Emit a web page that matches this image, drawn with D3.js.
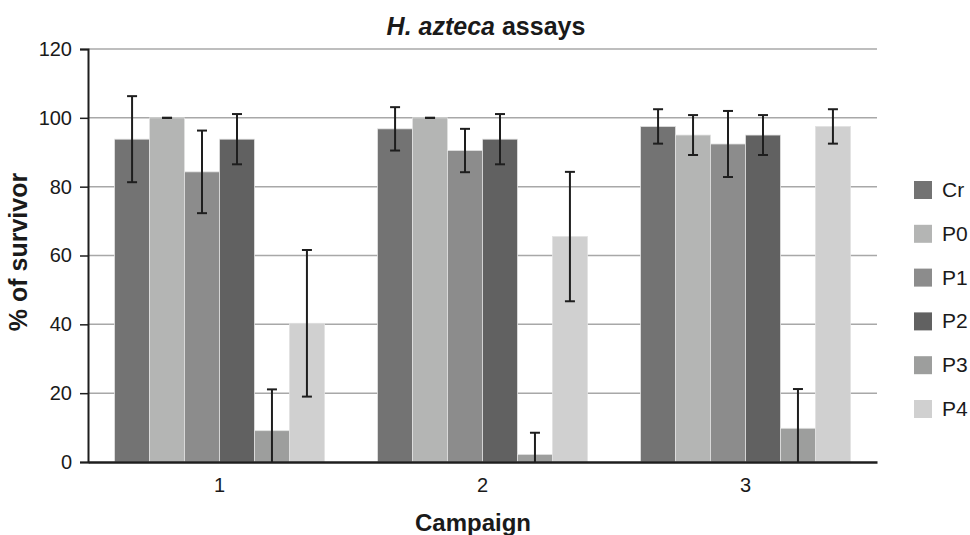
<!DOCTYPE html>
<html>
<head>
<meta charset="utf-8">
<script src="https://cdn.jsdelivr.net/npm/d3@7"></script>
<style>
  body { margin: 0; background: #fff; }
  text { font-family: "Liberation Sans", Arial, sans-serif; fill: #1a1a1a; }
</style>
</head>
<body>
<script>
// chart data
var campaigns = ["1", "2", "3"];
var series = ["Cr", "P0", "P1", "P2", "P3", "P4"];
var colors = ["#737373", "#b4b5b4", "#8c8c8c", "#616161", "#9d9e9d", "#d0d0d0"];
// mean survival per campaign, one array per series
var valCr = [93.8, 96.8, 97.5];
var valP0 = [100, 100, 95];
var valP1 = [84.3, 90.5, 92.4];
var valP2 = [93.8, 93.8, 95];
var valP3 = [9.1, 2.2, 9.8];
var valP4 = [40.3, 65.5, 97.5];
// error (+/-)
var errCr = [12.5, 6.3, 5];
var errP0 = [0, 0, 5.8];
var errP1 = [12, 6.3, 9.6];
var errP2 = [7.3, 7.3, 5.8];
var errP3 = [12, 6.3, 11.4];
var errP4 = [21.3, 18.8, 5];
var yTicks = [0, 20, 40, 60, 80, 100, 120];

var width = 970, height = 535;
var margin = {top: 49, right: 93, bottom: 73, left: 88};

var vals = [valCr, valP0, valP1, valP2, valP3, valP4];
var errs = [errCr, errP0, errP1, errP2, errP3, errP4];

var rows = [];
campaigns.forEach(function(c, i){
    series.forEach(function(s, j){
        rows.push({campaign: c, key: s, value: vals[j][i], err: errs[j][i], color: colors[j]});
    });
});

var svg = d3.select("body").append("svg")
    .attr("width", width)
    .attr("height", height);

var x0 = d3.scaleBand()
    .domain(campaigns)
    .range([margin.left, width - margin.right])
    .padding(0);

var x1 = d3.scaleBand()
    .domain(series)
    .range([0, x0.bandwidth()])
    .paddingInner(0)
    .paddingOuter(0.76);

var y = d3.scaleLinear()
    .domain([0, 120])
    .range([height - margin.bottom, margin.top]);

// gridlines
svg.append("g")
    .selectAll("line")
    .data(yTicks.filter(function(d){ return d > 0; }))
    .enter().append("line")
    .attr("x1", margin.left)
    .attr("x2", width - margin.right)
    .attr("y1", function(d){ return y(d); })
    .attr("y2", function(d){ return y(d); })
    .attr("stroke", "#a8a8a8")
    .attr("stroke-width", 1.5);

// bars
svg.append("g")
    .selectAll("rect")
    .data(rows)
    .enter().append("rect")
    .attr("x", function(d){ return x0(d.campaign) + x1(d.key); })
    .attr("y", function(d){ return y(d.value); })
    .attr("width", x1.bandwidth())
    .attr("height", function(d){ return y(0) - y(d.value); })
    .attr("fill", function(d){ return d.color; })
    .attr("stroke", "#e2e2e2")
    .attr("stroke-width", 0.8);

// error bars
var eb = svg.append("g")
    .attr("stroke", "#1e1e1e")
    .attr("stroke-width", 2)
    .selectAll("g")
    .data(rows)
    .enter().append("g")
    .attr("transform", function(d){
        return "translate(" + (x0(d.campaign) + x1(d.key) + x1.bandwidth() / 2) + ",0)";
    });

eb.append("line")
    .attr("y1", function(d){ return y(Math.max(0, d.value - d.err)); })
    .attr("y2", function(d){ return y(d.value + d.err); });

eb.append("line")
    .attr("x1", -5).attr("x2", 5)
    .attr("y1", function(d){ return y(d.value + d.err); })
    .attr("y2", function(d){ return y(d.value + d.err); });

eb.filter(function(d){ return d.value - d.err > 0; })
    .append("line")
    .attr("x1", -5).attr("x2", 5)
    .attr("y1", function(d){ return y(d.value - d.err); })
    .attr("y2", function(d){ return y(d.value - d.err); });

// y axis
var yAxis = svg.append("g")
    .attr("transform", "translate(" + margin.left + ",0)")
    .call(d3.axisLeft(y).tickValues(yTicks).tickSize(8).tickPadding(8));
yAxis.select(".domain").attr("stroke", "#1e1e1e").attr("stroke-width", 2);
yAxis.selectAll(".tick line").attr("stroke", "#1e1e1e").attr("stroke-width", 1.5);
yAxis.selectAll(".tick text").style("font-size", "20px").attr("fill", "#1a1a1a");

// x axis
var xAxis = svg.append("g")
    .attr("transform", "translate(0," + y(0) + ")")
    .call(d3.axisBottom(x0).tickSize(0).tickPadding(16));
xAxis.select(".domain").attr("stroke", "#1e1e1e").attr("stroke-width", 2.5);
xAxis.selectAll(".tick text").style("font-size", "20px").attr("fill", "#1a1a1a");

// title
var title = svg.append("text")
    .attr("x", 486)
    .attr("y", 35)
    .attr("text-anchor", "middle")
    .style("font-size", "25px")
    .style("font-weight", "bold");
title.append("tspan").style("font-style", "italic").text("H. azteca");
title.append("tspan").text(" assays");

// axis titles
svg.append("text")
    .attr("x", 473)
    .attr("y", 531)
    .attr("text-anchor", "middle")
    .style("font-size", "24px")
    .style("font-weight", "bold")
    .text("Campaign");

svg.append("text")
    .attr("transform", "translate(27,252) rotate(-90)")
    .attr("text-anchor", "middle")
    .style("font-size", "25px")
    .style("font-weight", "bold")
    .text("% of survivor");

// legend
var legend = svg.append("g")
    .selectAll("g")
    .data(series)
    .enter().append("g")
    .attr("transform", function(d, i){ return "translate(914," + (181 + i * 43.8) + ")"; });

legend.append("rect")
    .attr("width", 18)
    .attr("height", 18)
    .attr("fill", function(d, i){ return colors[i]; });

legend.append("text")
    .attr("x", 28)
    .attr("y", 16)
    .style("font-size", "21px")
    .text(function(d){ return d; });
</script>
</body>
</html>
